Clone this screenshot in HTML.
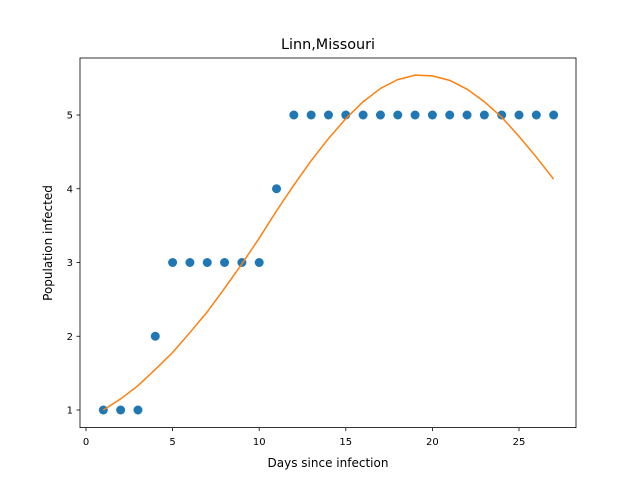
<!DOCTYPE html>
<html><head><meta charset="utf-8"><style>
body{margin:0;background:#fff;}
svg text{font-family:"DejaVu Sans","Liberation Sans",sans-serif;fill:#000;}
</style></head><body>
<svg id="chart" width="640" height="480" viewBox="0 0 640 480" xmlns="http://www.w3.org/2000/svg">
<rect width="640" height="480" fill="#fff"/>
<text x="328" y="49" text-anchor="middle" font-size="14.4">Linn,Missouri</text>
<g id="plot"></g>
<rect x="80" y="58" width="496" height="369.6" fill="none" stroke="#000" stroke-width="0.8"/>
<text x="328" y="467" text-anchor="middle" font-size="12">Days since infection</text>
<text transform="translate(52,243) rotate(-90)" text-anchor="middle" font-size="12">Population infected</text>
</svg>
<script>
const days=[1,2,3,4,5,6,7,8,9,10,11,12,13,14,15,16,17,18,19,20,21,22,23,24,25,26,27];
const observed=[1,1,1,2,3,3,3,3,3,3,4,5,5,5,5,5,5,5,5,5,5,5,5,5,5,5,5];
const fitted=[1.0,1.15,1.33,1.55,1.78,2.05,2.33,2.65,2.98,3.33,3.7,4.05,4.38,4.68,4.95,5.18,5.36,5.48,5.54,5.53,5.47,5.35,5.18,4.97,4.71,4.43,4.13];
const xTicks=[0,5,10,15,20,25];
const yTicks=[1,2,3,4,5];
const NS="http://www.w3.org/2000/svg";
const xs=v=>86.0+v*17.32;
const ys=v=>410.0-(v-1)*73.75;
const g=document.getElementById('plot');
function mk(t,a){const e=document.createElementNS(NS,t);for(const k in a)e.setAttribute(k,a[k]);g.appendChild(e);return e;}
xTicks.forEach(t=>{
  const l=mk('line',{x1:xs(t),x2:xs(t),y1:427.6,y2:431.1,stroke:'#000','stroke-width':0.8});
  
  
  const tx=mk('text',{x:xs(t),y:445,'text-anchor':'middle','font-size':10});
  tx.textContent=t;
  
  
});
yTicks.forEach(t=>{
  const l=mk('line',{x1:76.5,x2:80,y1:ys(t),y2:ys(t),stroke:'#000','stroke-width':0.8});
  
  
  const tx=mk('text',{x:73,y:ys(t)+3.5,'text-anchor':'end','font-size':10});
  tx.textContent=t;
  
  
});
days.forEach((d,i)=>{
  const c=mk('circle',{cx:xs(d),cy:ys(observed[i]),r:4.5,fill:'#1f77b4'});
  
  
});
const p=mk('polyline',{points:days.map((d,i)=>xs(d)+','+ys(fitted[i])).join(' '),fill:'none',stroke:'#ff7f0e','stroke-width':1.5});


</script>
</body></html>
